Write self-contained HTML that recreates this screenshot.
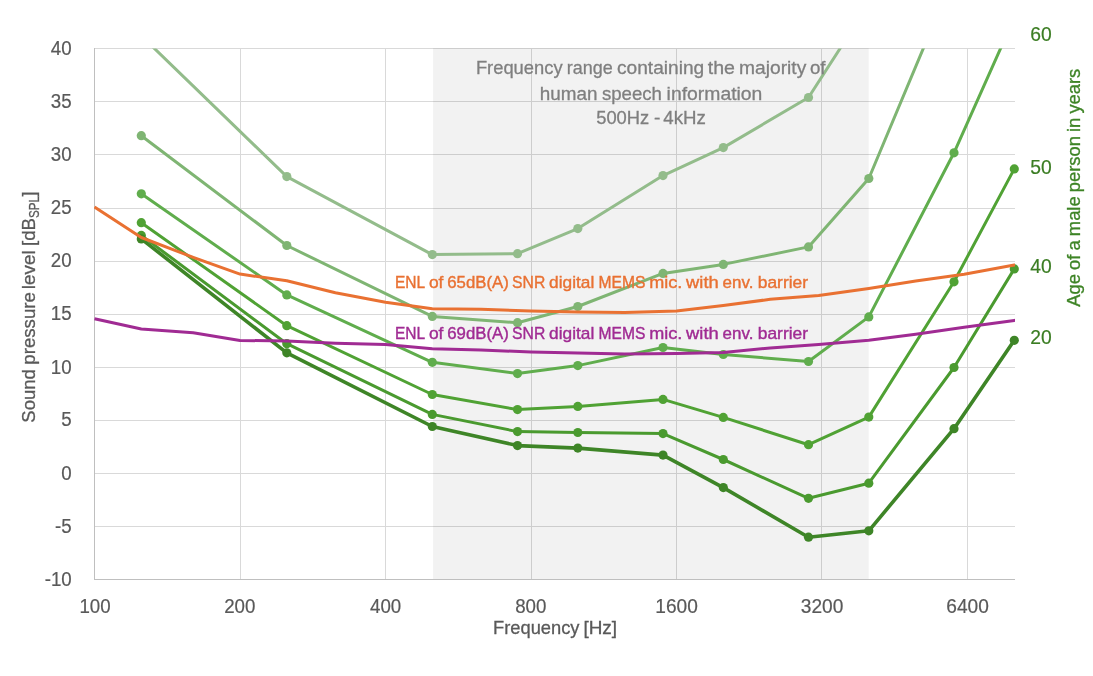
<!DOCTYPE html>
<html><head><meta charset="utf-8"><title>Chart</title>
<style>html,body{margin:0;padding:0;background:#fff}svg{display:block}</style></head>
<body>
<svg width="1093" height="676" viewBox="0 0 1093 676" font-family="'Liberation Sans', sans-serif">
<rect width="1093" height="676" fill="#fff"/>
<g fill="#D9D9D9" shape-rendering="crispEdges">
<rect x="94" y="48" width="920.6" height="1"/>
<rect x="94" y="101" width="920.6" height="1"/>
<rect x="94" y="154" width="920.6" height="1"/>
<rect x="94" y="208" width="920.6" height="1"/>
<rect x="94" y="261" width="920.6" height="1"/>
<rect x="94" y="314" width="920.6" height="1"/>
<rect x="94" y="367" width="920.6" height="1"/>
<rect x="94" y="420" width="920.6" height="1"/>
<rect x="94" y="473" width="920.6" height="1"/>
<rect x="94" y="526" width="920.6" height="1"/>
<rect x="240" y="48" width="1" height="531"/>
<rect x="385" y="48" width="1" height="531"/>
<rect x="531" y="48" width="1" height="531"/>
<rect x="676" y="48" width="1" height="531"/>
<rect x="821" y="48" width="1" height="531"/>
<rect x="967" y="48" width="1" height="531"/>
</g>
<rect x="433.05" y="48" width="435.65" height="531.4" fill="#000" fill-opacity="0.051"/>
<g fill="#BFBFBF" shape-rendering="crispEdges">
<rect x="94" y="48" width="1" height="532"/>
<rect x="94" y="579" width="920.6" height="1"/>
</g>
<clipPath id="cp2"><rect x="94" y="40" width="921" height="560"/></clipPath>
<clipPath id="cp"><rect x="94" y="48.5" width="940" height="600"/></clipPath>
<g clip-path="url(#cp)"><polyline points="141.3,35.8 286.8,176.6 432.3,254.6 517.5,253.7 577.8,228.6 663.0,175.6 723.3,147.6 808.5,97.5 868.8,3.9 954.0,-163.9 1014.3,-270.1" fill="none" stroke="#93BC8B" stroke-width="3.0" stroke-linejoin="round" stroke-linecap="round"/></g>
<g fill="#93BC8B">
<circle cx="286.8" cy="176.6" r="4.6"/>
<circle cx="432.3" cy="254.6" r="4.6"/>
<circle cx="517.5" cy="253.7" r="4.6"/>
<circle cx="577.8" cy="228.6" r="4.6"/>
<circle cx="663.0" cy="175.6" r="4.6"/>
<circle cx="723.3" cy="147.6" r="4.6"/>
<circle cx="808.5" cy="97.5" r="4.6"/>
</g>
<g clip-path="url(#cp)"><polyline points="141.3,135.7 286.8,245.5 432.3,316.4 517.5,322.7 577.8,306.5 663.0,273.4 723.3,264.4 808.5,246.9 868.8,178.5 954.0,-24.8 1014.3,-163.9" fill="none" stroke="#7FB573" stroke-width="3.0" stroke-linejoin="round" stroke-linecap="round"/></g>
<g fill="#7FB573">
<circle cx="141.3" cy="135.7" r="4.6"/>
<circle cx="286.8" cy="245.5" r="4.6"/>
<circle cx="432.3" cy="316.4" r="4.6"/>
<circle cx="517.5" cy="322.7" r="4.6"/>
<circle cx="577.8" cy="306.5" r="4.6"/>
<circle cx="663.0" cy="273.4" r="4.6"/>
<circle cx="723.3" cy="264.4" r="4.6"/>
<circle cx="808.5" cy="246.9" r="4.6"/>
<circle cx="868.8" cy="178.5" r="4.6"/>
</g>
<g clip-path="url(#cp)"><polyline points="141.3,193.8 286.8,294.9 432.3,362.3 517.5,373.6 577.8,365.6 663.0,347.5 723.3,354.5 808.5,361.5 868.8,316.9 954.0,152.8 1014.3,17.7" fill="none" stroke="#60AD4D" stroke-width="3.0" stroke-linejoin="round" stroke-linecap="round"/></g>
<g fill="#60AD4D">
<circle cx="141.3" cy="193.8" r="4.6"/>
<circle cx="286.8" cy="294.9" r="4.6"/>
<circle cx="432.3" cy="362.3" r="4.6"/>
<circle cx="517.5" cy="373.6" r="4.6"/>
<circle cx="577.8" cy="365.6" r="4.6"/>
<circle cx="663.0" cy="347.5" r="4.6"/>
<circle cx="723.3" cy="354.5" r="4.6"/>
<circle cx="808.5" cy="361.5" r="4.6"/>
<circle cx="868.8" cy="316.9" r="4.6"/>
<circle cx="954.0" cy="152.8" r="4.6"/>
</g>
<g clip-path="url(#cp)"><polyline points="141.3,222.7 286.8,325.7 432.3,394.5 517.5,409.6 577.8,406.4 663.0,399.4 723.3,417.4 808.5,444.7 868.8,417.1 954.0,281.8 1014.3,168.9" fill="none" stroke="#50A234" stroke-width="3.0" stroke-linejoin="round" stroke-linecap="round"/></g>
<g fill="#50A234">
<circle cx="141.3" cy="222.7" r="4.6"/>
<circle cx="286.8" cy="325.7" r="4.6"/>
<circle cx="432.3" cy="394.5" r="4.6"/>
<circle cx="517.5" cy="409.6" r="4.6"/>
<circle cx="577.8" cy="406.4" r="4.6"/>
<circle cx="663.0" cy="399.4" r="4.6"/>
<circle cx="723.3" cy="417.4" r="4.6"/>
<circle cx="808.5" cy="444.7" r="4.6"/>
<circle cx="868.8" cy="417.1" r="4.6"/>
<circle cx="954.0" cy="281.8" r="4.6"/>
<circle cx="1014.3" cy="168.9" r="4.6"/>
</g>
<g clip-path="url(#cp)"><polyline points="141.3,235.4 286.8,343.7 432.3,414.4 517.5,431.6 577.8,432.5 663.0,433.6 723.3,459.5 808.5,498.3 868.8,483.2 954.0,367.5 1014.3,268.9" fill="none" stroke="#4A9A2F" stroke-width="3.0" stroke-linejoin="round" stroke-linecap="round"/></g>
<g fill="#4A9A2F">
<circle cx="141.3" cy="235.4" r="4.6"/>
<circle cx="286.8" cy="343.7" r="4.6"/>
<circle cx="432.3" cy="414.4" r="4.6"/>
<circle cx="517.5" cy="431.6" r="4.6"/>
<circle cx="577.8" cy="432.5" r="4.6"/>
<circle cx="663.0" cy="433.6" r="4.6"/>
<circle cx="723.3" cy="459.5" r="4.6"/>
<circle cx="808.5" cy="498.3" r="4.6"/>
<circle cx="868.8" cy="483.2" r="4.6"/>
<circle cx="954.0" cy="367.5" r="4.6"/>
<circle cx="1014.3" cy="268.9" r="4.6"/>
</g>
<g clip-path="url(#cp)"><polyline points="141.3,238.9 286.8,352.8 432.3,426.5 517.5,445.6 577.8,448.1 663.0,455.1 723.3,487.6 808.5,537.2 868.8,530.8 954.0,428.7 1014.3,340.3" fill="none" stroke="#3E8527" stroke-width="3.6" stroke-linejoin="round" stroke-linecap="round"/></g>
<g fill="#3E8527">
<circle cx="141.3" cy="238.9" r="4.6"/>
<circle cx="286.8" cy="352.8" r="4.6"/>
<circle cx="432.3" cy="426.5" r="4.6"/>
<circle cx="517.5" cy="445.6" r="4.6"/>
<circle cx="577.8" cy="448.1" r="4.6"/>
<circle cx="663.0" cy="455.1" r="4.6"/>
<circle cx="723.3" cy="487.6" r="4.6"/>
<circle cx="808.5" cy="537.2" r="4.6"/>
<circle cx="868.8" cy="530.8" r="4.6"/>
<circle cx="954.0" cy="428.7" r="4.6"/>
<circle cx="1014.3" cy="340.3" r="4.6"/>
</g>
<g clip-path="url(#cp2)"><polyline points="94.5,207.1 141.3,237.5 193.2,257.3 240.0,274.1 286.8,280.8 335.4,292.8 385.5,302.3 432.3,308.7 480.9,309.2 531.0,311.1 577.8,311.9 624.7,312.4 676.5,310.9 723.3,305.6 770.2,299.3 818.7,295.6 868.8,288.5 915.7,281.1 964.2,274.2 1014.3,265.1 1018.0,264.5" fill="none" stroke="#E97132" stroke-width="3.0" stroke-linejoin="round"/></g>
<g clip-path="url(#cp2)"><polyline points="94.5,318.8 141.3,329.0 193.2,332.7 240.0,340.5 286.8,340.9 335.4,343.2 385.5,344.5 432.3,348.7 480.9,350.1 531.0,351.9 577.8,353.0 624.7,353.9 676.5,353.6 723.3,352.4 770.2,347.9 818.7,344.6 868.8,340.3 915.7,334.2 964.2,327.3 1014.3,320.4 1018.0,319.9" fill="none" stroke="#A02B93" stroke-width="3.0" stroke-linejoin="round"/></g>
<text transform="translate(71.7,55.2) scale(0.96,1)" font-size="19.5" text-anchor="end" fill="#595959" stroke="#595959" stroke-width="0.2">40</text>
<text transform="translate(71.7,108.2) scale(0.96,1)" font-size="19.5" text-anchor="end" fill="#595959" stroke="#595959" stroke-width="0.2">35</text>
<text transform="translate(71.7,161.2) scale(0.96,1)" font-size="19.5" text-anchor="end" fill="#595959" stroke="#595959" stroke-width="0.2">30</text>
<text transform="translate(71.7,214.2) scale(0.96,1)" font-size="19.5" text-anchor="end" fill="#595959" stroke="#595959" stroke-width="0.2">25</text>
<text transform="translate(71.7,267.2) scale(0.96,1)" font-size="19.5" text-anchor="end" fill="#595959" stroke="#595959" stroke-width="0.2">20</text>
<text transform="translate(71.7,320.4) scale(0.96,1)" font-size="19.5" text-anchor="end" fill="#595959" stroke="#595959" stroke-width="0.2">15</text>
<text transform="translate(71.7,373.6) scale(0.96,1)" font-size="19.5" text-anchor="end" fill="#595959" stroke="#595959" stroke-width="0.2">10</text>
<text transform="translate(71.7,426.4) scale(0.96,1)" font-size="19.5" text-anchor="end" fill="#595959" stroke="#595959" stroke-width="0.2">5</text>
<text transform="translate(71.7,480.2) scale(0.96,1)" font-size="19.5" text-anchor="end" fill="#595959" stroke="#595959" stroke-width="0.2">0</text>
<text transform="translate(71.7,533.2) scale(0.96,1)" font-size="19.5" text-anchor="end" fill="#595959" stroke="#595959" stroke-width="0.2">-5</text>
<text transform="translate(71.7,586.2) scale(0.96,1)" font-size="19.5" text-anchor="end" fill="#595959" stroke="#595959" stroke-width="0.2">-10</text>
<text transform="translate(95.0,613.2) scale(0.96,1)" font-size="19.5" text-anchor="middle" fill="#595959" stroke="#595959" stroke-width="0.2">100</text>
<text transform="translate(239.8,613.2) scale(0.96,1)" font-size="19.5" text-anchor="middle" fill="#595959" stroke="#595959" stroke-width="0.2">200</text>
<text transform="translate(385.6,613.2) scale(0.96,1)" font-size="19.5" text-anchor="middle" fill="#595959" stroke="#595959" stroke-width="0.2">400</text>
<text transform="translate(530.8,613.2) scale(0.96,1)" font-size="19.5" text-anchor="middle" fill="#595959" stroke="#595959" stroke-width="0.2">800</text>
<text transform="translate(676.6,613.2) scale(0.98,1)" font-size="19.5" text-anchor="middle" fill="#595959" stroke="#595959" stroke-width="0.2">1600</text>
<text transform="translate(822.1,613.2) scale(0.98,1)" font-size="19.5" text-anchor="middle" fill="#595959" stroke="#595959" stroke-width="0.2">3200</text>
<text transform="translate(967.6,613.2) scale(0.98,1)" font-size="19.5" text-anchor="middle" fill="#595959" stroke="#595959" stroke-width="0.2">6400</text>
<text y="633.5" font-size="18.6" fill="#595959" stroke="#595959" stroke-width="0.3"><tspan x="493.0" textLength="86.5" lengthAdjust="spacingAndGlyphs">Frequency</tspan> <tspan x="583.4" textLength="33.7" lengthAdjust="spacingAndGlyphs">[Hz]</tspan></text>
<text transform="translate(35,422) rotate(-90)" font-size="19.2" fill="#595959" stroke="#595959" stroke-width="0.3"><tspan x="-0.7" textLength="53.4" lengthAdjust="spacingAndGlyphs">Sound</tspan> <tspan x="57.3" textLength="72.6" lengthAdjust="spacingAndGlyphs">pressure</tspan> <tspan x="132.8" textLength="38.9" lengthAdjust="spacingAndGlyphs">level</tspan> <tspan x="176.0" textLength="28.0" lengthAdjust="spacingAndGlyphs">[dB</tspan><tspan x="204.0" dy="4.1" font-size="14.4" textLength="22.0" lengthAdjust="spacingAndGlyphs">SPL</tspan><tspan x="225.6" dy="-4.1" textLength="5.2" lengthAdjust="spacingAndGlyphs">]</tspan></text>
<text y="74.3" font-size="18.6" fill="#7F7F7F" stroke="#7F7F7F" stroke-width="0.3"><tspan x="475.9" textLength="86.7" lengthAdjust="spacingAndGlyphs">Frequency</tspan> <tspan x="566.8" textLength="45.9" lengthAdjust="spacingAndGlyphs">range</tspan> <tspan x="617.0" textLength="87.2" lengthAdjust="spacingAndGlyphs">containing</tspan> <tspan x="707.8" textLength="27.2" lengthAdjust="spacingAndGlyphs">the</tspan> <tspan x="739.1" textLength="67.2" lengthAdjust="spacingAndGlyphs">majority</tspan> <tspan x="809.9" textLength="15.6" lengthAdjust="spacingAndGlyphs">of</tspan></text>
<text y="99.6" font-size="18.6" fill="#7F7F7F" stroke="#7F7F7F" stroke-width="0.3"><tspan x="539.8" textLength="57.7" lengthAdjust="spacingAndGlyphs">human</tspan> <tspan x="601.9" textLength="60.0" lengthAdjust="spacingAndGlyphs">speech</tspan> <tspan x="666.6" textLength="95.8" lengthAdjust="spacingAndGlyphs">information</tspan></text>
<text y="124.1" font-size="18.6" fill="#7F7F7F" stroke="#7F7F7F" stroke-width="0.3"><tspan x="596.2" textLength="53.0" lengthAdjust="spacingAndGlyphs">500Hz</tspan> <tspan x="653.9" textLength="6.4" lengthAdjust="spacingAndGlyphs">-</tspan> <tspan x="663.3" textLength="42.6" lengthAdjust="spacingAndGlyphs">4kHz</tspan></text>
<text y="288.3" font-size="16.2" fill="#E97132" stroke="#E97132" stroke-width="0.38"><tspan x="395.0" textLength="29.6" lengthAdjust="spacingAndGlyphs">ENL</tspan> <tspan x="428.9" textLength="14.5" lengthAdjust="spacingAndGlyphs">of</tspan> <tspan x="447.3" textLength="61.5" lengthAdjust="spacingAndGlyphs">65dB(A)</tspan> <tspan x="512.1" textLength="33.2" lengthAdjust="spacingAndGlyphs">SNR</tspan> <tspan x="549.1" textLength="45.2" lengthAdjust="spacingAndGlyphs">digital</tspan> <tspan x="598.6" textLength="46.8" lengthAdjust="spacingAndGlyphs">MEMS</tspan> <tspan x="649.2" textLength="33.1" lengthAdjust="spacingAndGlyphs">mic.</tspan> <tspan x="686.1" textLength="32.6" lengthAdjust="spacingAndGlyphs">with</tspan> <tspan x="722.6" textLength="30.8" lengthAdjust="spacingAndGlyphs">env.</tspan> <tspan x="757.8" textLength="50.2" lengthAdjust="spacingAndGlyphs">barrier</tspan></text>
<text y="339.1" font-size="16.2" fill="#A02B93" stroke="#A02B93" stroke-width="0.38"><tspan x="395.0" textLength="29.6" lengthAdjust="spacingAndGlyphs">ENL</tspan> <tspan x="428.9" textLength="14.5" lengthAdjust="spacingAndGlyphs">of</tspan> <tspan x="447.3" textLength="61.5" lengthAdjust="spacingAndGlyphs">69dB(A)</tspan> <tspan x="512.1" textLength="33.2" lengthAdjust="spacingAndGlyphs">SNR</tspan> <tspan x="549.1" textLength="45.2" lengthAdjust="spacingAndGlyphs">digital</tspan> <tspan x="598.6" textLength="46.8" lengthAdjust="spacingAndGlyphs">MEMS</tspan> <tspan x="649.2" textLength="33.1" lengthAdjust="spacingAndGlyphs">mic.</tspan> <tspan x="686.1" textLength="32.6" lengthAdjust="spacingAndGlyphs">with</tspan> <tspan x="722.6" textLength="30.8" lengthAdjust="spacingAndGlyphs">env.</tspan> <tspan x="757.8" textLength="50.2" lengthAdjust="spacingAndGlyphs">barrier</tspan></text>
<text transform="translate(1030.2,40.7) scale(0.965,1)" font-size="20" text-anchor="start" fill="#3B7D23" stroke="#3B7D23" stroke-width="0.2">60</text>
<text transform="translate(1030.2,173.9) scale(0.965,1)" font-size="20" text-anchor="start" fill="#3B7D23" stroke="#3B7D23" stroke-width="0.2">50</text>
<text transform="translate(1030.2,273.0) scale(0.965,1)" font-size="20" text-anchor="start" fill="#3B7D23" stroke="#3B7D23" stroke-width="0.2">40</text>
<text transform="translate(1030.2,343.8) scale(0.965,1)" font-size="20" text-anchor="start" fill="#3B7D23" stroke="#3B7D23" stroke-width="0.2">20</text>
<text transform="translate(1079.6,306.7) rotate(-90)" font-size="19" word-spacing="-1" fill="#3E8426" stroke="#3E8426" stroke-width="0.3" textLength="238" lengthAdjust="spacingAndGlyphs">Age of a male person in years</text>
</svg>
</body></html>
